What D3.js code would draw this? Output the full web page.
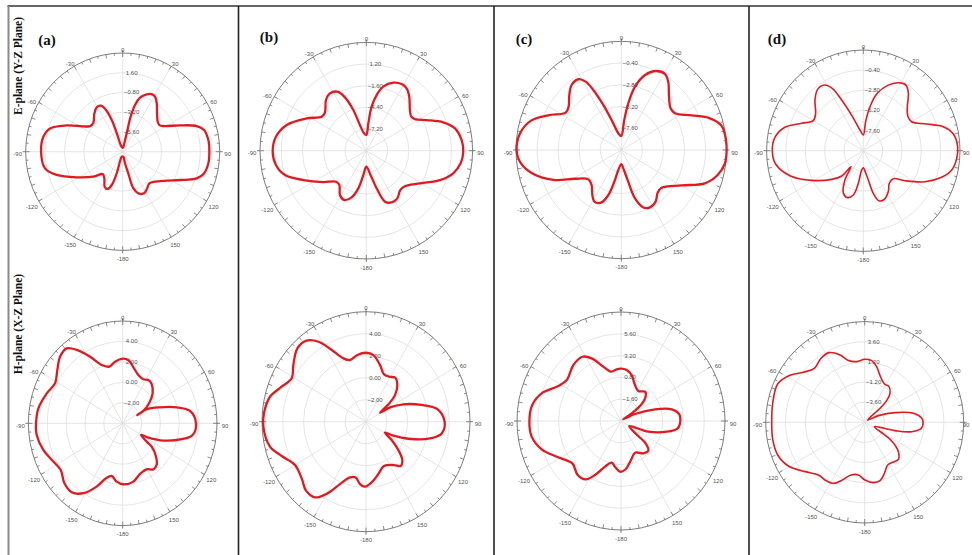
<!DOCTYPE html>
<html>
<head>
<meta charset="utf-8">
<script src="https://cdn.jsdelivr.net/npm/d3@7"></script>
<style>
  body { margin: 0; background: #fff; }
  svg { display: block; }
</style>
</head>
<body>
<div id="chart"></div>
<script>
const width = 972, height = 555;

// angular axis
const angleTicks = [0, 30, 60, 90, 120, 150, 180, 210, 240, 270, 300, 330];
const angleLabels = ["0", "30", "60", "90", "120", "150", "-180", "-150", "-120", "-90", "-60", "-30"];

// radial axis (dB) per panel
const aE_domain = [-8, 4],  aE_rings = [-5.6, -3.2, -0.8, 1.6];
const aH_domain = [-4, 6],  aH_rings = [-2, 0, 2, 4];
const bE_domain = [-10, 4], bE_rings = [-7.2, -4.4, -1.6, 1.2];
const bH_domain = [-4, 6],  bH_rings = [-2, 0, 2, 4];
const cE_domain = [-10, 2], cE_rings = [-7.6, -5.2, -2.8, -0.4];
const cH_domain = [-4, 8],  cH_rings = [-1.6, 0.8, 3.2, 5.6];
const dE_domain = [-10, 2], dE_rings = [-7.6, -5.2, -2.8, -0.4];
const dH_domain = [-6, 6],  dH_rings = [-3.6, -1.2, 1.2, 3.6];

// gain patterns: [angle deg (clockwise from 0), gain dB]
const aE = [[0,-7.52],[8,-7.39],[12.4,-5.72],[13,-3.63],[15,-2.12],[18.1,-1.09],[23,-0.42],[27.1,-0.13],[30.9,-0.21],[35.6,-0.76],[42.3,-1.69],[49.9,-2.34],[54.5,-2.42],[58.2,-2.08],[65.7,-0.21],[71.2,1.67],[75.3,2.4],[82.4,2.69],[90,2.72],[97.6,2.69],[104.7,2.4],[109.5,1.71],[115.9,-0.12],[122.9,-1.51],[132.4,-2.59],[139.4,-2.92],[146,-2.61],[152.5,-2.29],[159,-2.58],[163.5,-3.34],[165.2,-5.28],[168.5,-6.56],[172,-7.4],[180,-7.4],[191,-7.38],[195.7,-5.26],[198.5,-3.73],[202.7,-3.08],[207.6,-3.2],[215,-4.04],[222.3,-4.33],[230.1,-3.27],[241.3,-1.51],[250.9,0.64],[258.1,1.82],[270,2.1],[280.5,1.98],[287.5,1.42],[294.8,-0.37],[307.6,-2.89],[314.2,-2.94],[323.1,-2.17],[329.2,-1.72],[334.4,-1.8],[337.8,-2.53],[340.6,-3.92],[342,-5.86],[343,-7.15],[351.3,-7.46]];

const aH = [[0,2.32],[5.5,2.22],[11.7,1.59],[19.4,1.0],[27,0.83],[32.7,1.03],[38.6,0.92],[47.3,0.32],[54.5,-0.53],[61.1,-1.5],[62.4,-2.25],[61.7,-1.11],[68.5,0.26],[74.7,1.93],[80.4,3.24],[90,3.77],[98.7,3.51],[104,2.44],[111.4,0.63],[117.2,-0.94],[120.4,-1.75],[125.2,-0.89],[126.6,-0.17],[132.7,0.81],[138.5,1.43],[144.2,1.55],[150.6,1.17],[159.6,1.28],[168.8,1.81],[179.3,1.96],[186.4,1.74],[192.8,1.28],[198.2,1.66],[204.1,2.78],[211.4,4.01],[218.7,4.64],[226.5,4.52],[235.2,4.0],[243,4.25],[252.8,4.81],[262.9,5.19],[270,5.19],[279.3,5.06],[290,4.57],[298.6,4.17],[306.9,4.67],[314.4,5.3],[321,5.43],[325.8,4.67],[332,3.37],[338.6,2.12],[345.7,1.72],[352.3,2.08]];

const bE = [[0,-7.97],[4.3,-6.46],[7,-4.27],[10.7,-2.68],[15.1,-1.43],[22,-0.52],[28.4,-0.21],[33.4,-0.35],[39.1,-1.03],[47.6,-2.22],[53.4,-2.62],[57.5,-2.4],[63.5,-1.12],[70.1,0.78],[76.1,2.03],[83.8,2.63],[90.6,2.77],[97.5,2.53],[104.3,1.82],[111.4,0.42],[120.9,-1.77],[133.2,-3.21],[139.3,-3.2],[146.4,-2.61],[153.5,-2.54],[159.5,-2.96],[164.4,-4.95],[169.7,-6.79],[180,-7.93],[187.1,-6.82],[192.2,-5.02],[197.8,-3.67],[204.8,-2.99],[211.2,-3.31],[218.7,-4.32],[224.9,-4.34],[234.4,-3.04],[245.4,-0.89],[253.6,1.16],[261.2,2.04],[269.4,2.33],[278.6,2.04],[287.6,1.0],[298,-1.11],[306.8,-2.66],[312,-2.66],[321,-1.57],[327.1,-1.18],[333.4,-1.47],[337.8,-2.55],[342,-4.47],[345.8,-6.58],[352.2,-7.73]];

const bH = [[0,2.27],[6.7,2.1],[14.7,1.32],[21.9,0.64],[28.7,0.66],[35.2,0.89],[42.1,0.49],[49.1,-0.31],[53.3,-1.2],[58.7,-2.42],[60.6,-1.35],[66.2,-0.08],[74.1,1.56],[80.5,2.96],[90,3.56],[98.3,3.36],[103.9,2.34],[110.8,0.36],[115.9,-1.15],[118.6,-1.92],[124.1,-1.02],[129.7,0.04],[134.9,0.93],[140.4,1.23],[145.7,0.77],[156.8,0.39],[166,0.9],[174.4,1.55],[181,1.91],[185.8,1.7],[191.1,1.16],[196.9,1.29],[203.8,2.2],[209.7,3.5],[215.5,4.45],[222.6,4.52],[230.2,4.05],[240,3.88],[249,4.69],[256.2,5.51],[267.4,5.88],[274.4,5.84],[283.8,5.51],[291.4,4.71],[298.9,4.16],[306.4,4.68],[315.3,5.38],[322.2,5.32],[327.8,4.59],[333.2,3.31],[339.3,2.16],[344.7,1.81],[352.2,2.12]];

const cE = [[0,-8.45],[5.8,-6.67],[8.8,-4.79],[12.6,-2.84],[18.1,-1.29],[24.7,-0.4],[30.7,-0.24],[35.3,-0.75],[42.7,-1.98],[50.7,-2.74],[56.5,-2.67],[64.5,-1.12],[70.9,0.69],[76.9,1.74],[84.7,1.98],[90.9,2.0],[97.1,1.9],[104.1,1.32],[111.1,0.21],[119.6,-2.09],[132.2,-3.8],[138.7,-3.72],[145.5,-3.09],[152.7,-2.87],[158.4,-3.18],[163.7,-4.43],[167.7,-6.6],[173.6,-7.96],[180,-8.45],[188.7,-7.77],[192.8,-6.41],[196.5,-4.82],[201.7,-3.74],[208.3,-3.52],[213.6,-4.04],[221.2,-4.86],[229.2,-5.04],[239,-3.84],[246.3,-1.74],[255.2,0.37],[262.6,1.53],[270,1.93],[279,1.69],[287.5,0.79],[294.7,-0.84],[303.1,-2.44],[308.6,-2.32],[315.7,-1.52],[321.7,-0.86],[327.9,-0.78],[331.7,-1.43],[334.3,-2.64],[337.6,-4.62],[342,-6.71],[349.6,-8.13]];

const cH = [[0,1.76],[6.6,1.65],[13.7,1.21],[20.3,0.43],[31.3,-0.14],[40.7,0.26],[46.7,-0.1],[51.9,-0.96],[55.8,-2.51],[55,-3.68],[64.6,-2.21],[71.9,0.13],[77.6,1.99],[83.8,2.77],[90,2.85],[97,2.59],[102.6,1.4],[110.4,-0.63],[121,-2.9],[129.6,-1.41],[130.9,-0.24],[136,0.54],[144.1,0.4],[155.1,-0.15],[165,0.45],[174.2,1.34],[181.2,1.58],[187.9,1.08],[193.3,0.72],[200.2,1.35],[206.8,2.66],[212.4,3.61],[220.1,3.76],[230.3,3.3],[241.1,4.27],[251.2,5.67],[260.5,6.45],[270,6.57],[279.8,6.39],[288.4,5.65],[298,4.2],[305.8,3.72],[318.3,4.26],[327.8,4.36],[333.9,3.68],[340.5,2.43],[348,1.56],[354.9,1.71]];

const dE = [[0,-8.13],[4.8,-6.53],[9,-4.7],[13.8,-3.04],[21.2,-1.65],[28.7,-0.77],[34.1,-0.56],[39.3,-1.17],[46.2,-2.43],[53.2,-3.11],[60.1,-3.08],[68,-1.52],[73.9,0.33],[79.9,1.35],[87.7,1.72],[94.5,1.63],[101.9,1.21],[108.1,0.22],[115.8,-1.5],[124.7,-3.71],[131.9,-5.0],[140.4,-4.94],[147.5,-4.22],[155.8,-3.64],[162,-3.72],[166.3,-4.77],[169.9,-6.45],[176.9,-7.78],[180,-7.96],[185.1,-7.68],[189.1,-6.05],[193.2,-4.58],[200,-4.07],[206.4,-4.41],[213.1,-5.82],[218.8,-7.55],[221.6,-5.96],[229,-4.79],[241.1,-2.68],[251.9,-0.42],[261.7,1.0],[270,1.29],[278.2,1.08],[286,0.12],[293.1,-1.68],[300,-2.84],[306.9,-2.6],[315.2,-1.49],[322.2,-0.75],[328.3,-0.8],[332.6,-1.64],[336,-3.39],[341.1,-5.51],[350.5,-7.5]];

const dH = [[0,1.51],[6.6,1.4],[12.3,0.79],[18.5,-0.13],[27.6,-0.84],[34.8,-0.83],[41.6,-1.38],[45.9,-2.29],[48.1,-3.5],[52.5,-5.54],[64.4,-4.16],[72.6,-2.15],[79.7,0.0],[87,1.0],[95.3,0.94],[101.1,-0.19],[105.2,-2.2],[113.7,-4.72],[121.5,-3.34],[124.5,-1.93],[130.6,-0.62],[137.3,0.01],[143.6,-0.13],[151.3,-0.2],[158.6,0.54],[165,1.2],[171.6,1.27],[179.7,0.88],[187,0.32],[194.8,0.49],[201.5,1.39],[207.5,2.21],[215,2.39],[221.8,2.42],[230.9,3.32],[240.6,4.62],[249.7,5.24],[259.3,5.34],[270,5.27],[281.5,5.38],[293.4,5.5],[300.8,4.78],[308.7,3.54],[316.5,2.87],[325.3,3.29],[332.5,3.36],[339.6,2.57],[345,1.62],[352.3,1.3]];

const panelLabels = ["(a)", "(b)", "(c)", "(d)"];
const rowLabels = ["E-plane (Y-Z Plane)", "H-plane (X-Z Plane)"];

// layout of the 8 polar plots
const panels = [
  {data: aE, domain: aE_domain, rings: aE_rings, cx: 122.7, cy: 151.7, rx: 97,    ry: 98.7,  sw: 2.3},
  {data: aH, domain: aH_domain, rings: aH_rings, cx: 122.7, cy: 423.3, rx: 94.3,  ry: 102.3, sw: 2.3},
  {data: bE, domain: bE_domain, rings: bE_rings, cx: 366.3, cy: 150.7, rx: 106.3, ry: 108.3, sw: 2.3},
  {data: bH, domain: bH_domain, rings: bH_rings, cx: 366,   cy: 421.7, rx: 104,   ry: 110,   sw: 2.3},
  {data: cE, domain: cE_domain, rings: cE_rings, cx: 621.3, cy: 150,   rx: 105.3, ry: 108.7, sw: 2.3},
  {data: cH, domain: cH_domain, rings: cH_rings, cx: 621,   cy: 421,   rx: 104,   ry: 109,   sw: 2.3},
  {data: dE, domain: dE_domain, rings: dE_rings, cx: 863.3, cy: 150.7, rx: 96.7,  ry: 100.7, sw: 1.6},
  {data: dH, domain: dH_domain, rings: dH_rings, cx: 864.7, cy: 422.3, rx: 99,    ry: 100.7, sw: 1.6}
];

const rad = a => a * Math.PI / 180;
const fmt = d3.format(".2f");

const svg = d3.select("#chart").append("svg")
  .attr("width", width)
  .attr("height", height);

// frame
svg.append("line").attr("x1", 7.5).attr("x2", width).attr("y1", 6).attr("y2", 6)
  .attr("stroke", "#333").attr("stroke-width", 1.4);
svg.append("line").attr("x1", 8.5).attr("x2", 8.5).attr("y1", 6).attr("y2", height)
  .attr("stroke", "#8a8a8a").attr("stroke-width", 2);
[238.5, 494, 749].forEach(x => {
  svg.append("line").attr("x1", x).attr("x2", x).attr("y1", 6).attr("y2", height)
    .attr("stroke", "#222").attr("stroke-width", 1.6);
});

function drawPolar(p) {
  const g = svg.append("g");
  const r = d3.scaleLinear().domain(p.domain).range([0, 1]).clamp(true);
  const px = (a, f) => p.cx + p.rx * f * Math.sin(rad(a));
  const py = (a, f) => p.cy - p.ry * f * Math.cos(rad(a));

  // rings
  g.selectAll(".ring").data(p.rings).join("ellipse")
    .attr("cx", p.cx).attr("cy", p.cy)
    .attr("rx", d => p.rx * r(d)).attr("ry", d => p.ry * r(d))
    .attr("fill", "none").attr("stroke", "#dedede").attr("stroke-width", 0.8);

  // spokes
  g.selectAll(".spoke").data(angleTicks).join("line")
    .attr("x1", p.cx).attr("y1", p.cy)
    .attr("x2", d => px(d, 1)).attr("y2", d => py(d, 1))
    .attr("stroke", "#dedede").attr("stroke-width", 0.8);

  // outer circle
  g.append("ellipse")
    .attr("cx", p.cx).attr("cy", p.cy).attr("rx", p.rx).attr("ry", p.ry)
    .attr("fill", "none").attr("stroke", "#6e6e6e").attr("stroke-width", 0.9);

  // ticks on the outer circle
  g.selectAll(".tick").data(d3.range(0, 360, 5)).join("line")
    .attr("x1", d => px(d, 1)).attr("y1", d => py(d, 1))
    .attr("x2", d => px(d, d % 10 === 0 ? 1 - 4 / p.rx : 1 - 2.5 / p.rx))
    .attr("y2", d => py(d, d % 10 === 0 ? 1 - 4 / p.ry : 1 - 2.5 / p.ry))
    .attr("stroke", "#6e6e6e").attr("stroke-width", 0.8);
  g.selectAll(".axtick").data([0, 90, 180, 270]).join("line")
    .attr("x1", d => px(d, 1)).attr("y1", d => py(d, 1))
    .attr("x2", d => px(d, 1 + 3 / p.rx)).attr("y2", d => py(d, 1 + 3 / p.ry))
    .attr("stroke", "#6e6e6e").attr("stroke-width", 0.9);

  // angle labels
  g.selectAll(".alab").data(angleTicks).join("text")
    .attr("x", d => Math.min(width - 6, p.cx + (p.rx + 8) * Math.sin(rad(d))))
    .attr("y", d => p.cy - (p.ry + 6) * Math.cos(rad(d)) + 2.5)
    .attr("text-anchor", "middle")
    .attr("dominant-baseline", "central")
    .attr("font-family", "Liberation Sans, Arial, sans-serif")
    .attr("font-size", 6)
    .attr("fill", "#555")
    .text((d, i) => angleLabels[i]);

  // radial labels
  g.selectAll(".rlab").data(p.rings).join("text")
    .attr("x", p.cx + 9)
    .attr("y", d => p.cy - p.ry * r(d))
    .attr("text-anchor", "middle")
    .attr("dominant-baseline", "central")
    .attr("font-family", "Liberation Sans, Arial, sans-serif")
    .attr("font-size", 6)
    .attr("fill", "#555")
    .text(d => fmt(d));

  // pattern
  const line = d3.line()
    .x(d => px(d[0], r(d[1])))
    .y(d => py(d[0], r(d[1])))
    .curve(d3.curveCatmullRomClosed.alpha(0.5));

  g.append("path").datum(p.data)
    .attr("d", line)
    .attr("fill", "none")
    .attr("stroke", "#e3191f")
    .attr("stroke-width", p.sw)
    .attr("stroke-linejoin", "round");
}

panels.forEach(drawPolar);

// panel letters
const letterPos = [[47, 45], [269, 41.5], [524, 43.5], [777, 43.5]];
svg.selectAll(".plab").data(panelLabels).join("text")
  .attr("x", (d, i) => letterPos[i][0])
  .attr("y", (d, i) => letterPos[i][1])
  .attr("text-anchor", "middle")
  .attr("font-family", "Liberation Serif, Times New Roman, serif")
  .attr("font-weight", "bold")
  .attr("font-size", 15)
  .attr("fill", "#111")
  .text(d => d);

// row titles
const rowPos = [[22, 66], [22, 324]];
svg.selectAll(".rowlab").data(rowLabels).join("text")
  .attr("transform", (d, i) => `translate(${rowPos[i][0]},${rowPos[i][1]}) rotate(-90)`)
  .attr("text-anchor", "middle")
  .attr("font-family", "Liberation Serif, Times New Roman, serif")
  .attr("font-weight", "bold")
  .attr("font-size", 11.5)
  .attr("fill", "#111")
  .text(d => d);
</script>
</body>
</html>
